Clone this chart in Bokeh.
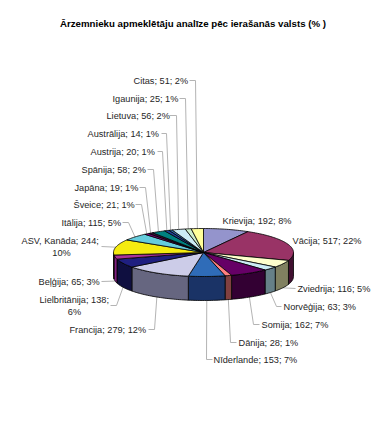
import math
from bokeh.embed import file_html
from bokeh.resources import INLINE
from bokeh.plotting import figure
from bokeh.core.properties import value

title = "Ārzemnieku apmeklētāju analīze pēc ierašanās valsts (% )"
names = ["Krievija", "Vācija", "Zviedrija", "Norvēģija", "Somija", "Dānija", "Nīderlande", "Francija",
         "Lielbritānija", "Beļģija", "ASV, Kanāda", "Itālija", "Šveice", "Japāna", "Spānija", "Austrija",
         "Austrālija", "Lietuva", "Igaunija", "Citas"]
visitors = [192, 517, 116, 63, 162, 28, 153, 279, 138, 65, 244, 115, 21, 19, 58, 20, 14, 56, 25, 51]
percents = [8, 22, 5, 3, 7, 1, 7, 12, 6, 3, 10, 5, 1, 1, 2, 1, 1, 2, 1, 2]
top_colors = ["#9494CC", "#993366", "#FFFFCC", "#CCECF5", "#660066", "#FF8080", "#2F6CB8", "#CCCCE8",
              "#1F1F80", "#AA3399", "#F5EB10", "#66CCDD", "#800080", "#401040", "#008080", "#1F3F99",
              "#2F6CB8", "#CCECF5", "#CCEECC", "#FFFF99"]
side_colors = ["#666688", "#401030", "#808060", "#668088", "#330033", "#804040", "#1A3366", "#666680",
               "#0F0F40", "#802080", "#807808", "#336670", "#400040", "#200820", "#004040", "#0F2050",
               "#1A3366", "#667680", "#667766", "#80804D"]

# layout of the labels (page pixels): left edge, centre of first line
label_x = [222, 292, 297, 283, 261, 238, 213, 69, 39, 38, 21, 61, 73, 74, 81, 90, 87, 106, 112, 133]
label_y = [220, 240, 288, 306, 324, 342, 359, 329, 299, 281, 240, 222, 204, 187, 169, 151, 133, 115, 98, 80]
# names whose percentage wraps to a second line: index -> centre x, y of that line
wrapped = {8: (74, 311), 10: (61, 252)}
# leaders: start (x, y) beside the label, elbow x (None = straight to the pie)
leader_start = [None, None, (295, 288), (281, 306), (259, 324), (236, 342), (212, 359), (148, 329),
                (110, 305), (101, 281), (101, 246), (122, 222), (135, 204), (139, 187), (147, 169),
                (157, 151), (161, 133), (169, 115), (179, 98), (189, 80)]
leader_elbow = [None, None, None, 276, 253, 230, 206, 154, 116, None, None, 128, 141, 145, 153, 162, 166, 176, 185, 195]

CX, CY, RX, RY, DEPTH = 203, 252, 90, 24, 24
FONT = "Liberation Sans"
LABEL_SIZE = "9.2px"
total = sum(visitors)

p = figure(width=376, height=406, x_range=(0, 376), y_range=(406, 0), output_backend="svg",
           toolbar_location=None, min_border=0, outline_line_color=None)
p.axis.visible = False
p.grid.visible = False
p.background_fill_color = "white"
p.border_fill_color = "white"


def pt(a):
    return CX + RX * math.sin(a), CY - RY * math.cos(a)


starts, ends = [], []
acc = 0
for v in visitors:
    starts.append(acc / total * 2 * math.pi)
    acc += v
    ends.append(acc / total * 2 * math.pi)

# leaders, ending on the rim at each slice's middle angle
lx, ly = [], []
for a0, a1, s, e in zip(starts, ends, leader_start, leader_elbow):
    if s is None:
        continue
    mid = (a0 + a1) / 2
    rx, ry = pt(mid)
    if math.pi / 2 < mid < 3 * math.pi / 2:
        ry += DEPTH
    xs, ys = [s[0]], [s[1]]
    if e is not None:
        xs.append(e)
        ys.append(s[1])
    xs.append(rx)
    ys.append(ry)
    lx.append(xs)
    ly.append(ys)
p.multi_line(lx, ly, line_color="#B4B4B4", line_width=1)

# side walls: the part of each slice on the front half of the ellipse
sx, sy, sc = [], [], []
for a0, a1, c in zip(starts, ends, side_colors):
    lo, hi = max(a0, math.pi / 2), min(a1, 3 * math.pi / 2)
    if hi <= lo:
        continue
    n = max(3, int((hi - lo) * 40))
    arc = [pt(lo + (hi - lo) * i / n) for i in range(n + 1)]
    sx.append([q[0] for q in arc] + [q[0] for q in reversed(arc)])
    sy.append([q[1] for q in arc] + [q[1] + DEPTH for q in reversed(arc)])
    sc.append(c)
p.patches(sx, sy, fill_color=sc, line_color="black", line_width=0.8)

# top face
tx, ty = [], []
for a0, a1 in zip(starts, ends):
    n = max(3, int((a1 - a0) * 40))
    arc = [pt(a0 + (a1 - a0) * i / n) for i in range(n + 1)]
    tx.append([CX] + [q[0] for q in arc])
    ty.append([CY] + [q[1] for q in arc])
p.patches(tx, ty, fill_color=top_colors, line_color="black", line_width=0.8)

# labels
texts = []
for i, (n, v, pc) in enumerate(zip(names, visitors, percents)):
    texts.append(f"{n}; {v};" if i in wrapped else f"{n}; {v}; {pc}%")
p.text(label_x, label_y, text=texts, text_font=value(FONT), text_font_size=LABEL_SIZE,
       text_color="#262626", text_baseline="middle", text_align="left")
p.text([w[0] for w in wrapped.values()], [w[1] for w in wrapped.values()],
       text=[f"{percents[i]}%" for i in wrapped], text_font=value(FONT), text_font_size=LABEL_SIZE,
       text_color="#262626", text_baseline="middle", text_align="center")
p.text([192.5], [23], text=[title], text_font=value(FONT), text_font_size="9.7px",
       text_font_style="bold", text_color="black", text_baseline="middle", text_align="center")

open("out.html", "w").write(file_html(p, INLINE))
